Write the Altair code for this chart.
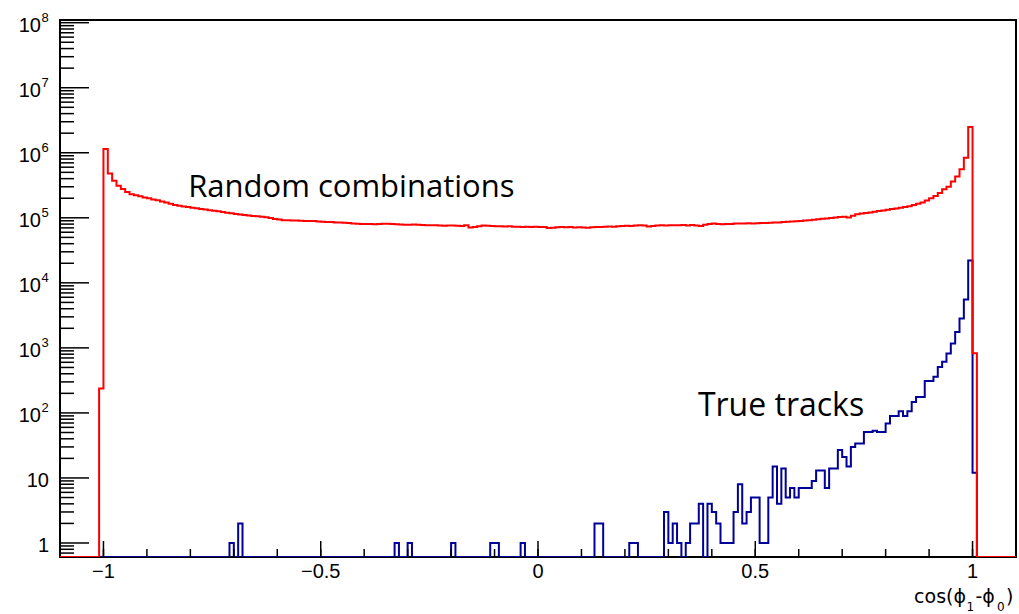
import altair as alt
import pandas as pd

# ---------------- histogram binning: 220 bins of 0.01 on [-1.1, 1.1] ----------------
N_BINS = 220
X_LO, X_HI = -1.1, 1.1
edges = [round(X_LO + 0.01 * k, 4) for k in range(N_BINS + 1)]

# ---------------- "Random combinations" (red), counts in thousands, bins 9..210 ----------------
red_thousands = [
    0.237,
    1140, 480, 370, 310, 277, 250, 230, 222, 214, 206,
    199, 192, 186, 178, 172, 165, 158, 153, 149, 146,
    143, 140, 137, 134, 131, 128, 126, 123, 120, 117,
    114, 112, 110, 108.5, 107, 105.5, 104, 102, 99, 96,
    94, 92, 91.5, 91, 90.5, 90, 89.5, 89, 89, 88,
    87, 86.5, 86, 85, 84.5, 84, 83, 82, 81, 80.5,
    80, 80, 79.5, 80.5, 81, 81, 80, 79.5, 79, 78.5,
    78, 79, 78, 77.5, 77, 76.5, 77, 76, 75.5, 76,
    76, 75.5, 75, 76.5, 71, 72, 74, 76, 75.5, 75,
    74, 74, 73.5, 74, 73, 73, 72.5, 73, 72.5, 73,
    72, 72.5, 70, 70.5, 71.5, 72, 71.5, 72, 71, 71.5,
    71, 70.5, 71.5, 72, 72.5, 73, 73.5, 73, 74, 75,
    75.5, 75, 76, 77, 76, 73.5, 74.5, 76, 76.5, 76,
    77, 76.5, 77, 77.5, 76, 77.5, 76, 75, 78, 80,
    82, 80, 79.5, 80, 80.5, 82, 81.5, 82, 82.5, 82,
    82.5, 83, 83.5, 84, 84.5, 85, 86, 87, 88, 88.5,
    89, 90.5, 92, 93.5, 95, 97, 98, 99.5, 101, 102.5,
    104, 101, 108, 113, 116, 119, 121, 124, 127, 130,
    133, 136, 139, 143, 146, 151, 158, 164, 172, 185,
    200, 216, 240, 275, 300, 360, 430, 560, 840, 2500,
    0.83,
]
red_counts = [0] * 9 + [v * 1000 for v in red_thousands] + [0] * 9

# ---------------- "True tracks" (blue), counts per bin 0..219 ----------------
blue_counts = [
    0, 0, 0, 0, 0, 0, 0, 0, 0, 0,
    0, 0, 0, 0, 0, 0, 0, 0, 0, 0,
    0, 0, 0, 0, 0, 0, 0, 0, 0, 0,
    0, 0, 0, 0, 0, 0, 0, 0, 0, 1,
    0, 2, 0, 0, 0, 0, 0, 0, 0, 0,
    0, 0, 0, 0, 0, 0, 0, 0, 0, 0,
    0, 0, 0, 0, 0, 0, 0, 0, 0, 0,
    0, 0, 0, 0, 0, 0, 0, 1, 0, 0,
    1, 0, 0, 0, 0, 0, 0, 0, 0, 0,
    1, 0, 0, 0, 0, 0, 0, 0, 0, 1,
    1, 0, 0, 0, 0, 0, 1, 0, 0, 0,
    0, 0, 0, 0, 0, 0, 0, 0, 0, 0,
    0, 0, 0, 2, 2, 0, 0, 0, 0, 0,
    0, 1, 1, 0, 0, 0, 0, 0, 0, 3,
    1, 2, 1, 0, 1, 2, 2, 4, 0, 4,
    3, 2, 1, 1, 1, 3, 8, 2, 3, 5,
    5, 1, 1, 5, 15, 4, 14, 5, 7, 5,
    7, 7, 7, 9, 13, 13, 7, 14, 14, 27,
    21, 15, 30, 34, 34, 51, 51, 53, 51, 51,
    69, 90, 90, 106, 90, 106, 147, 176, 176, 310,
    310, 360, 510, 610, 820, 1170, 1760, 2830, 5550, 22000,
    12, 0, 0, 0, 0, 0, 0, 0, 0, 0,
]

# ---------------- axes ----------------
Y_MIN, Y_MAX = 0.609, 1.1e8
ytick_vals = [1, 10, 100, 1e3, 1e4, 1e5, 1e6, 1e7, 1e8]
ytick_base = ["1", "10", "10", "10", "10", "10", "10", "10", "10"]
ytick_exp = ["", "", "2", "3", "4", "5", "6", "7", "8"]
yminor_vals = [m * 10.0 ** e for e in range(-1, 8) for m in range(2, 10) if Y_MIN <= m * 10.0 ** e <= Y_MAX]
xtick_vals = [-1, -0.5, 0, 0.5, 1]
xtick_labels = ["\u22121", "\u22120.5", "0", "0.5", "1"]
xminor_vals = [round(-1.1 + 0.1 * i, 2) for i in range(1, 22)]

ann1_text, ann1_x, ann1_y = ["Random combinations"], [-0.805], [2.08e5]
ann2_text, ann2_x, ann2_y = ["True tracks"], [0.368], [90]


def step_frame(counts):
    ys = [max(c, Y_MIN) for c in counts]
    return pd.DataFrame({"x": edges, "y": ys + [ys[-1]]})


XS = alt.Scale(domain=[X_LO, X_HI], nice=False, zero=False)
YS = alt.Scale(type="log", domain=[Y_MIN, Y_MAX], nice=False)


def xenc():
    return alt.X("x:Q", scale=XS, axis=None)


def yenc():
    return alt.Y("y:Q", scale=YS, axis=None)


blue = alt.Chart(step_frame(blue_counts)).mark_line(
    interpolate="step-after", color="#000099", strokeWidth=2, clip=True
).encode(x=xenc(), y=yenc())

red = alt.Chart(step_frame(red_counts)).mark_line(
    interpolate="step-after", color="#ff0000", strokeWidth=2, clip=True
).encode(x=xenc(), y=yenc())

ymaj = alt.Chart(pd.DataFrame({"y": ytick_vals})).mark_rule(color="black", strokeWidth=1.5).encode(
    y=yenc(), x=alt.value(0), x2=alt.value(29))
ymin_t = alt.Chart(pd.DataFrame({"y": yminor_vals})).mark_rule(color="black", strokeWidth=1.5).encode(
    y=yenc(), x=alt.value(0), x2=alt.value(14))
xmaj = alt.Chart(pd.DataFrame({"x": xtick_vals})).mark_rule(color="black", strokeWidth=1.5).encode(
    x=xenc(), y=alt.value(537), y2=alt.value(521))
xmin_t = alt.Chart(pd.DataFrame({"x": xminor_vals})).mark_rule(color="black", strokeWidth=1.5).encode(
    x=xenc(), y=alt.value(537), y2=alt.value(529))

ylab_df = pd.DataFrame({"y": ytick_vals, "base": ytick_base, "exp": ytick_exp})
ylab_plain = alt.Chart(ylab_df[ylab_df["exp"] == ""]).mark_text(
    align="right", baseline="middle", font="Liberation Sans", fontSize=20, dy=3
).encode(y=yenc(), x=alt.value(-11), text="base:N")
ylab_base = alt.Chart(ylab_df[ylab_df["exp"] != ""]).mark_text(
    align="right", baseline="middle", font="Liberation Sans", fontSize=20, dy=3
).encode(y=yenc(), x=alt.value(-19), text="base:N")
ylab_exp = alt.Chart(ylab_df[ylab_df["exp"] != ""]).mark_text(
    align="left", baseline="middle", font="Liberation Sans", fontSize=13, dy=-5
).encode(y=yenc(), x=alt.value(-18.5), text="exp:N")

xlab = alt.Chart(pd.DataFrame({"x": xtick_vals, "t": xtick_labels})).mark_text(
    align="center", baseline="alphabetic", font="Liberation Sans", fontSize=20
).encode(x=xenc(), y=alt.value(558), text="t:N")

title_parts = [
    ("cos(\u03d5", 906, 583, 19, "right"),
    ("1", 906.5, 590.5, 12, "left"),
    ("-\u03d5", 915.5, 583, 19, "left"),
    ("0", 937, 590.5, 12, "left"),
    (")", 946, 583, 19, "left"),
]
title_layers = [
    alt.Chart(pd.DataFrame({"t": [t]})).mark_text(
        align=al, baseline="alphabetic", font="DejaVu Sans", fontSize=fs
    ).encode(x=alt.value(px), y=alt.value(py), text="t:N")
    for (t, px, py, fs, al) in title_parts
]

ann1 = alt.Chart(pd.DataFrame({"x": ann1_x, "y": ann1_y, "t": ann1_text})).mark_text(
    align="left", baseline="alphabetic", font="Open Sans", fontSize=31, color="black"
).encode(x=xenc(), y=yenc(), text="t:N")
ann2 = alt.Chart(pd.DataFrame({"x": ann2_x, "y": ann2_y, "t": ann2_text})).mark_text(
    align="left", baseline="alphabetic", font="Open Sans", fontSize=32, color="black"
).encode(x=xenc(), y=yenc(), text="t:N")

chart = alt.layer(
    blue, red, ymaj, ymin_t, xmaj, xmin_t, ylab_plain, ylab_base, ylab_exp, xlab, ann1, ann2, *title_layers
).properties(
    width=956, height=537,
    autosize=alt.AutoSizeParams(type="none"),
    padding={"left": 60, "top": 20, "right": 3, "bottom": 57},
    background="white",
).configure_view(stroke="black", strokeWidth=2)

chart.save("out.html", embed_options={"renderer": "svg", "actions": False})
